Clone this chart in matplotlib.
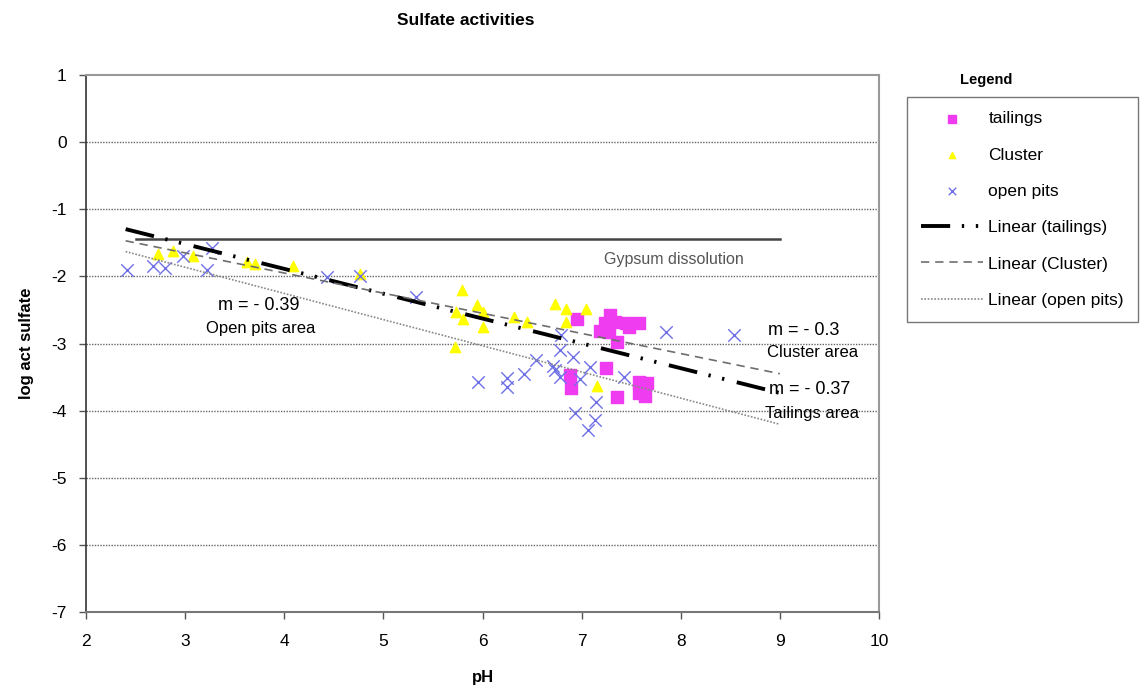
import matplotlib
matplotlib.use("Agg")
import matplotlib.pyplot as plt
import numpy as np

plt.rcParams["font.family"] = ["Liberation Sans", "DejaVu Sans"]
plt.rcParams["axes.unicode_minus"] = False

# tailings (magenta squares)
tail_ph = [6.95, 7.29, 7.24, 7.34, 7.19, 7.28, 7.36, 7.48, 7.58, 7.45,
           6.88, 6.89, 7.25, 7.36, 7.58, 7.63, 7.66, 7.58, 7.64]
tail_so4 = [-2.64, -2.58, -2.70, -2.68, -2.81, -2.83, -2.98, -2.76, -2.70, -2.70,
            -3.47, -3.66, -3.36, -3.79, -3.57, -3.66, -3.59, -3.74, -3.78]

# Cluster (yellow triangles)
clus_ph = [2.73, 2.88, 3.08, 3.62, 3.70, 4.09, 4.76, 5.79, 5.73, 5.80, 5.94,
           6.00, 6.00, 5.72, 6.32, 6.45, 6.73, 6.84, 6.84, 7.04, 7.16]
clus_so4 = [-1.66, -1.62, -1.70, -1.79, -1.81, -1.84, -1.96, -2.21, -2.53, -2.63, -2.43,
            -2.53, -2.75, -3.05, -2.61, -2.68, -2.41, -2.48, -2.68, -2.48, -3.64]

# open pits (blue crosses)
pits_ph = [2.41, 2.68, 2.80, 2.98, 3.22, 3.27, 4.43, 4.76, 5.33, 5.95, 6.25, 6.25,
           6.42, 6.54, 6.79, 6.78, 6.91, 6.71, 6.73, 6.78, 6.98, 7.08, 7.14, 6.93,
           7.13, 7.06, 7.43, 7.85, 8.54]
pits_so4 = [-1.91, -1.84, -1.88, -1.69, -1.90, -1.57, -2.01, -1.99, -2.31, -3.57, -3.52, -3.65,
            -3.45, -3.25, -2.88, -3.10, -3.20, -3.33, -3.40, -3.50, -3.53, -3.35, -3.87, -4.04,
            -4.14, -4.29, -3.50, -2.83, -2.88]

# linear trendlines: intercept, slope
trend_range = [2.4, 9.0]
tail_fit = [-0.408, -0.37]
clus_fit = [-0.75, -0.30]
pits_fit = [-0.694, -0.39]

gypsum_ph = [2.5, 9.0]
gypsum_level = -1.45

fig = plt.figure(figsize=(11.45, 6.89), dpi=100)
ax = fig.add_axes([0.0751, 0.1118, 0.6926, 0.7793])

for yv in range(-6, 1):
    ax.axhline(yv, color="#666666", lw=1.0, ls=(0, (1, 1)), zorder=1)

h1 = ax.scatter(tail_ph, tail_so4, marker="s", s=80, color="#f03cf0", zorder=3, label="tailings")
h2 = ax.scatter(clus_ph, clus_so4, marker="^", s=55, color="#ffff00", zorder=3, label="Cluster")
h3 = ax.scatter(pits_ph, pits_so4, marker="x", s=80, color="#6f6fe8", linewidths=1.0,
                zorder=3, label="open pits")

xs = np.array(trend_range)
l1, = ax.plot(xs, tail_fit[0] + tail_fit[1] * xs, color="black", lw=2.8,
              ls=(0, (7.5, 3.0, 0.6, 3.0, 0.6, 3.3)), zorder=4, label="Linear (tailings)")
l2, = ax.plot(xs, clus_fit[0] + clus_fit[1] * xs, color="#6e6e6e", lw=1.2,
              ls=(0, (5, 3.5)), zorder=4, label="Linear (Cluster)")
l3, = ax.plot(xs, pits_fit[0] + pits_fit[1] * xs, color="#888888", lw=1.2,
              ls=(0, (1, 1)), zorder=4, label="Linear (open pits)")

ax.plot(gypsum_ph, [gypsum_level, gypsum_level], color="#444444", lw=1.8, zorder=2)

ax.text(7.93, -1.75, "Gypsum dissolution", color="#555555", fontsize=11.5,
        ha="center", va="center")
ax.text(3.74, -2.44, "m = - 0.39", fontsize=13, ha="center", va="center")
ax.text(3.76, -2.77, "Open pits area", fontsize=12, ha="center", va="center")
ax.text(9.24, -2.80, "m = - 0.3", fontsize=13, ha="center", va="center")
ax.text(9.33, -3.14, "Cluster area", fontsize=12, ha="center", va="center")
ax.text(9.30, -3.69, "m = - 0.37", fontsize=13, ha="center", va="center")
ax.text(9.32, -4.05, "Tailings area", fontsize=12, ha="center", va="center")

ax.set_xlim(2, 10)
ax.set_ylim(-7, 1)
ax.set_xticks(range(2, 11))
ax.set_yticks(range(-7, 2))
ax.tick_params(axis="both", direction="out", length=5, width=1, labelsize=12.5,
               color="#555555")
ax.tick_params(axis="x", pad=11)
ax.tick_params(axis="y", pad=9)
ax.spines["left"].set_color("#333333")
ax.spines["bottom"].set_color("#777777")
ax.spines["top"].set_color("#999999")
ax.spines["right"].set_color("#999999")
ax.spines["left"].set_linewidth(1.2)
ax.spines["bottom"].set_linewidth(1.5)
ax.spines["top"].set_linewidth(1.5)
ax.spines["right"].set_linewidth(1.5)

ax.set_xlabel("pH", fontsize=12, fontweight="bold", labelpad=15)
ax.set_ylabel("log act sulfate", fontsize=12, fontweight="bold", labelpad=12)
fig.text(0.407, 0.970, "Sulfate activities", fontsize=12.5, fontweight="bold",
         ha="center", va="center")

fig.text(0.861, 0.884, "Legend", fontsize=10.5, fontweight="bold", ha="center", va="center")
leg = fig.legend(handles=[h1, h2, h3, l1, l2, l3], loc="upper left",
                 bbox_to_anchor=(0.792, 0.859), borderaxespad=0, fontsize=12.5,
                 frameon=True, fancybox=False, edgecolor="#555555",
                 handlelength=3.6, labelspacing=1.22, markerscale=0.6,
                 borderpad=0.8, handletextpad=0.3)
leg.get_frame().set_linewidth(1.0)

fig.savefig("out.png", dpi=100)
